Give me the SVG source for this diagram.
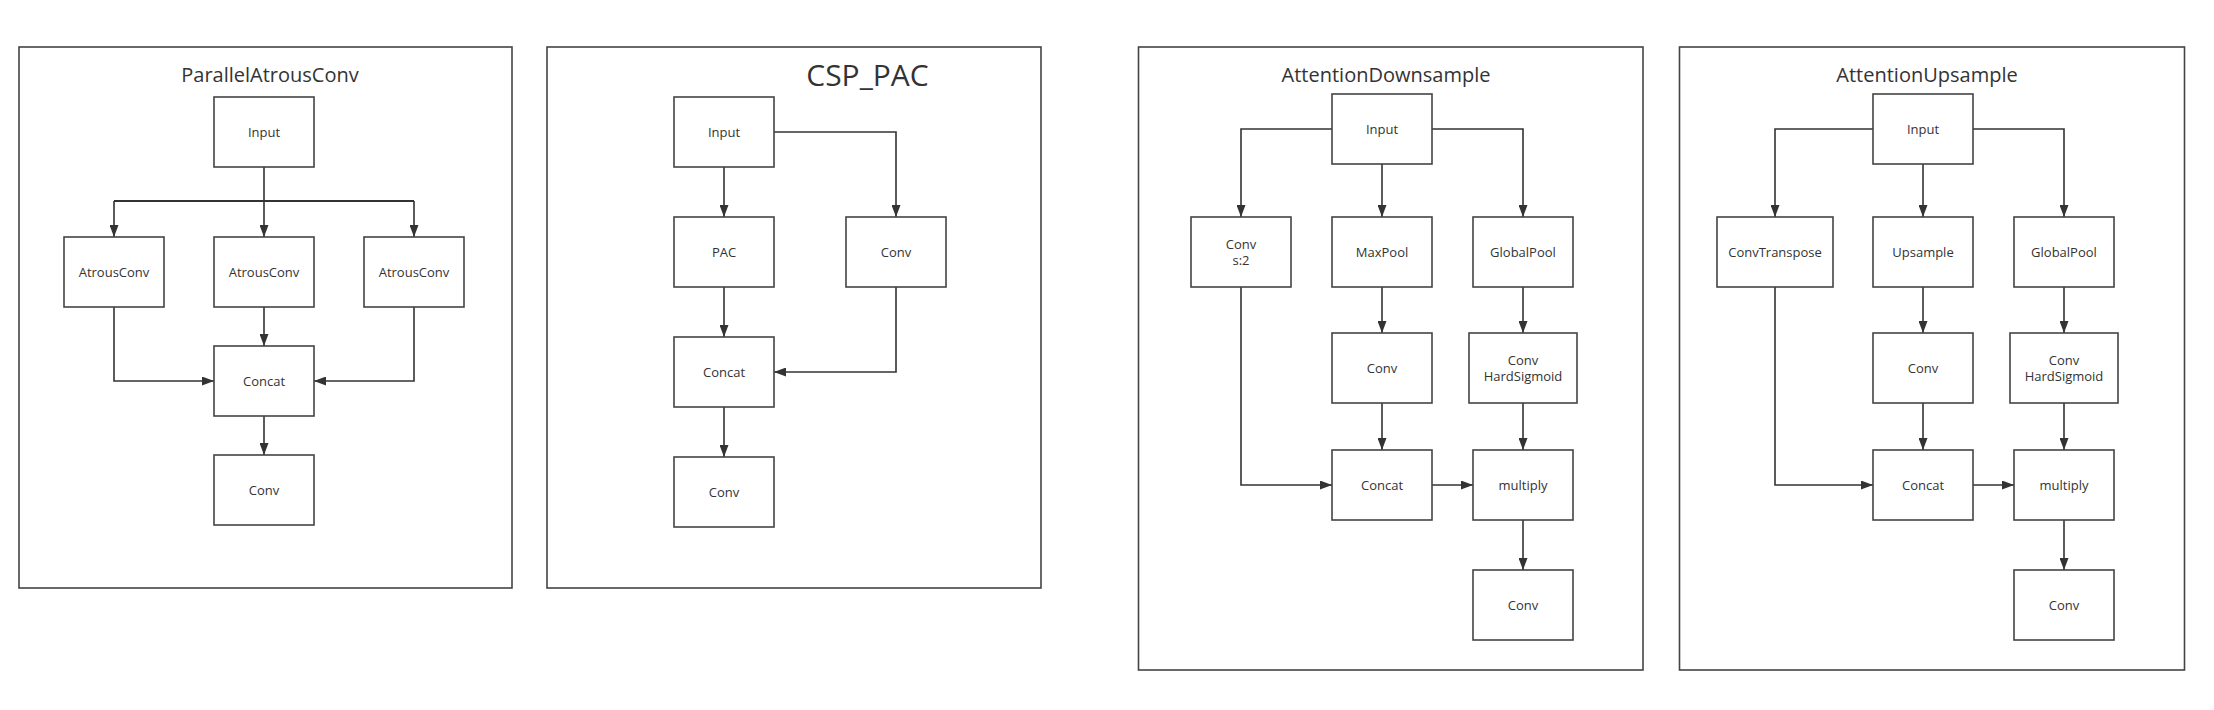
<svg xmlns="http://www.w3.org/2000/svg" width="2214" height="710" viewBox="0 0 2214 710">
<style>
.panel{fill:none;stroke:#444;stroke-width:1.6}
.node rect{fill:#fff;stroke:#444;stroke-width:1.6}
.node text,.lbl{font-family:"Open Sans","Noto Sans","Liberation Sans",sans-serif;font-size:13px;fill:#333;text-anchor:middle}
.title{font-family:"Open Sans","Noto Sans","Liberation Sans",sans-serif;font-size:20px;fill:#333;text-anchor:middle}
.conn path{fill:none;stroke:#333;stroke-width:1.6}
.conn .arr{marker-end:url(#ah)}
</style>
<defs>
<marker id="ah" markerUnits="userSpaceOnUse" markerWidth="12" markerHeight="9" refX="12" refY="4.5" orient="auto">
<path d="M0,0 L12,4.5 L0,9 z" fill="#333"/>
</marker>
</defs>
<rect width="2214" height="710" fill="#fff"/>

<!-- Panel frames -->
<g id="panels">
<rect class="panel" x="19" y="47" width="493" height="541"/>
<rect class="panel" x="547" y="47" width="494" height="541"/>
<rect class="panel" x="1138.5" y="47" width="504.5" height="623"/>
<rect class="panel" x="1679.5" y="47" width="505" height="623"/>
<text class="title" x="270" y="82">ParallelAtrousConv</text>
<text class="title" x="867.5" y="86" style="font-size:30px">CSP_PAC</text>
<text class="title" x="1386" y="82">AttentionDownsample</text>
<text class="title" x="1927" y="82">AttentionUpsample</text>
</g>

<!-- Connectors -->
<g id="connectors" class="conn">
<!-- Panel 1 -->
<path d="M264,167 V201"/>
<path d="M114,201 H414" style="stroke-width:2.2"/>
<path class="arr" d="M114,201 V237"/>
<path class="arr" d="M264,201 V237"/>
<path class="arr" d="M414,201 V237"/>
<path class="arr" d="M264,307 V346"/>
<path class="arr" d="M114,307 V381 H214"/>
<path class="arr" d="M414,307 V381 H314"/>
<path class="arr" d="M264,416 V455"/>
<!-- Panel 2 -->
<path class="arr" d="M724,167 V217"/>
<path class="arr" d="M774,132 H896 V217"/>
<path class="arr" d="M724,287 V337"/>
<path class="arr" d="M896,287 V372 H774"/>
<path class="arr" d="M724,407 V457"/>
<!-- Panel 3 -->
<path class="arr" d="M1332,129 H1241 V217"/>
<path class="arr" d="M1382,164 V217"/>
<path class="arr" d="M1432,129 H1523 V217"/>
<path class="arr" d="M1382,287 V333"/>
<path class="arr" d="M1523,287 V333"/>
<path class="arr" d="M1382,403 V450"/>
<path class="arr" d="M1523,403 V450"/>
<path class="arr" d="M1241,287 V485 H1332"/>
<path class="arr" d="M1432,485 H1473"/>
<path class="arr" d="M1523,520 V570"/>
<!-- Panel 4 -->
<path class="arr" d="M1873,129 H1775 V217"/>
<path class="arr" d="M1923,164 V217"/>
<path class="arr" d="M1973,129 H2064 V217"/>
<path class="arr" d="M1923,287 V333"/>
<path class="arr" d="M2064,287 V333"/>
<path class="arr" d="M1923,403 V450"/>
<path class="arr" d="M2064,403 V450"/>
<path class="arr" d="M1775,287 V485 H1873"/>
<path class="arr" d="M1973,485 H2014"/>
<path class="arr" d="M2064,520 V570"/>
</g>

<!-- Panel 1 nodes -->
<g id="p1-input" class="node"><rect x="214" y="97" width="100" height="70"/><text x="264" y="136.5">Input</text></g>
<g id="p1-atrous1" class="node"><rect x="64" y="237" width="100" height="70"/><text x="114" y="276.5">AtrousConv</text></g>
<g id="p1-atrous2" class="node"><rect x="214" y="237" width="100" height="70"/><text x="264" y="276.5">AtrousConv</text></g>
<g id="p1-atrous3" class="node"><rect x="364" y="237" width="100" height="70"/><text x="414" y="276.5">AtrousConv</text></g>
<g id="p1-concat" class="node"><rect x="214" y="346" width="100" height="70"/><text x="264" y="385.5">Concat</text></g>
<g id="p1-conv" class="node"><rect x="214" y="455" width="100" height="70"/><text x="264" y="494.5">Conv</text></g>

<!-- Panel 2 nodes -->
<g id="p2-input" class="node"><rect x="674" y="97" width="100" height="70"/><text x="724" y="136.5">Input</text></g>
<g id="p2-pac" class="node"><rect x="674" y="217" width="100" height="70"/><text x="724" y="256.5">PAC</text></g>
<g id="p2-conv1" class="node"><rect x="846" y="217" width="100" height="70"/><text x="896" y="256.5">Conv</text></g>
<g id="p2-concat" class="node"><rect x="674" y="337" width="100" height="70"/><text x="724" y="376.5">Concat</text></g>
<g id="p2-conv2" class="node"><rect x="674" y="457" width="100" height="70"/><text x="724" y="496.5">Conv</text></g>

<!-- Panel 3 nodes -->
<g id="p3-input" class="node"><rect x="1332" y="94" width="100" height="70"/><text x="1382" y="133.5">Input</text></g>
<g id="p3-convs2" class="node"><rect x="1191" y="217" width="100" height="70"/><text x="1241" y="248.5">Conv</text><text x="1241" y="264.5">s:2</text></g>
<g id="p3-maxpool" class="node"><rect x="1332" y="217" width="100" height="70"/><text x="1382" y="256.5">MaxPool</text></g>
<g id="p3-globalpool" class="node"><rect x="1473" y="217" width="100" height="70"/><text x="1523" y="256.5">GlobalPool</text></g>
<g id="p3-conv" class="node"><rect x="1332" y="333" width="100" height="70"/><text x="1382" y="372.5">Conv</text></g>
<g id="p3-convhs" class="node"><rect x="1469" y="333" width="108" height="70"/><text x="1523" y="364.5">Conv</text><text x="1523" y="380.5">HardSigmoid</text></g>
<g id="p3-concat" class="node"><rect x="1332" y="450" width="100" height="70"/><text x="1382" y="489.5">Concat</text></g>
<g id="p3-multiply" class="node"><rect x="1473" y="450" width="100" height="70"/><text x="1523" y="489.5">multiply</text></g>
<g id="p3-convout" class="node"><rect x="1473" y="570" width="100" height="70"/><text x="1523" y="609.5">Conv</text></g>

<!-- Panel 4 nodes -->
<g id="p4-input" class="node"><rect x="1873" y="94" width="100" height="70"/><text x="1923" y="133.5">Input</text></g>
<g id="p4-convtranspose" class="node"><rect x="1717" y="217" width="116" height="70"/><text x="1775" y="256.5">ConvTranspose</text></g>
<g id="p4-upsample" class="node"><rect x="1873" y="217" width="100" height="70"/><text x="1923" y="256.5">Upsample</text></g>
<g id="p4-globalpool" class="node"><rect x="2014" y="217" width="100" height="70"/><text x="2064" y="256.5">GlobalPool</text></g>
<g id="p4-conv" class="node"><rect x="1873" y="333" width="100" height="70"/><text x="1923" y="372.5">Conv</text></g>
<g id="p4-convhs" class="node"><rect x="2010" y="333" width="108" height="70"/><text x="2064" y="364.5">Conv</text><text x="2064" y="380.5">HardSigmoid</text></g>
<g id="p4-concat" class="node"><rect x="1873" y="450" width="100" height="70"/><text x="1923" y="489.5">Concat</text></g>
<g id="p4-multiply" class="node"><rect x="2014" y="450" width="100" height="70"/><text x="2064" y="489.5">multiply</text></g>
<g id="p4-convout" class="node"><rect x="2014" y="570" width="100" height="70"/><text x="2064" y="609.5">Conv</text></g>
</svg>
